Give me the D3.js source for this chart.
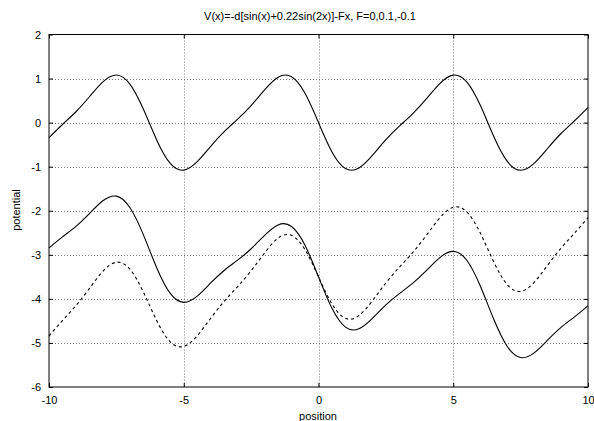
<!DOCTYPE html>
<html><head><meta charset="utf-8">
<script src="https://cdn.jsdelivr.net/npm/d3@7"></script>
<style>body{margin:0;background:#fff}svg{display:block}text{font-family:"Liberation Sans",Arial,sans-serif;font-size:11px;fill:#000}</style>
</head><body>
<script>
const title = "V(x)=-d[sin(x)+0.22sin(2x)]-Fx, F=0,0.1,-0.1";
const xTicks = [-10,-5,0,5,10];
const yTicks = [-6,-5,-4,-3,-2,-1,0,1,2];
const xs = [-10,-9.5,-9,-8.5,-8,-7.5,-7,-6.5,-6,-5.5,-5,-4.5,-4,-3.5,-3,-2.5,-2,-1.5,-1,-0.5,0,0.5,1,1.5,2,2.5,3,3.5,4,4.5,5,5.5,6,6.5,7,7.5,8,8.5,9,9.5,10];
const vF0 = [-0.343,-0.042,0.247,0.587,0.926,1.081,0.875,0.308,-0.398,-0.926,-1.079,-0.887,-0.539,-0.206,0.080,0.388,0.743,1.029,1.042,0.665,0,-0.665,-1.042,-1.029,-0.743,-0.388,-0.080,0.206,0.539,0.887,1.079,0.926,0.398,-0.308,-0.875,-1.081,-0.926,-0.587,-0.247,0.042,0.343];
const vFp = [-2.843,-2.592,-2.353,-2.063,-1.774,-1.669,-1.925,-2.542,-3.298,-3.876,-4.079,-3.937,-3.639,-3.356,-3.120,-2.862,-2.557,-2.321,-2.358,-2.785,-3.5,-4.215,-4.642,-4.679,-4.443,-4.138,-3.880,-3.644,-3.361,-3.063,-2.921,-3.124,-3.702,-4.458,-5.075,-5.331,-5.226,-4.937,-4.647,-4.408,-4.157];
const vFm = [-4.843,-4.492,-4.153,-3.763,-3.374,-3.169,-3.325,-3.842,-4.498,-4.976,-5.079,-4.837,-4.439,-4.056,-3.720,-3.362,-2.957,-2.621,-2.558,-2.885,-3.5,-4.115,-4.442,-4.379,-4.043,-3.638,-3.280,-2.944,-2.561,-2.163,-1.921,-2.024,-2.502,-3.158,-3.675,-3.831,-3.626,-3.237,-2.847,-2.508,-2.157];

const W=594,H=421, L=49, R=588, T=34.5, B=387;
const svg = d3.select("body").append("svg").attr("width",W).attr("height",H);
const x = d3.scaleLinear().domain([-10,10]).range([L,R]);
const y = d3.scaleLinear().domain([-6,2]).range([B,T]);
const fmt = d => String(d);

// grid
const g = svg.append("g");
g.selectAll(".gx").data(xTicks.slice(1,-1)).enter().append("line")
 .attr("x1",d=>Math.round(x(d))+0.5).attr("x2",d=>Math.round(x(d))+0.5).attr("y1",T).attr("y2",B)
 .attr("stroke","#777").attr("stroke-dasharray","1,2");
g.selectAll(".gy").data(yTicks.slice(1,-1)).enter().append("line")
 .attr("y1",d=>Math.round(y(d))+0.5).attr("y2",d=>Math.round(y(d))+0.5).attr("x1",L).attr("x2",R)
 .attr("stroke","#777").attr("stroke-dasharray","1,2");

// axes (inward ticks on all sides)
const ax = svg.append("g").attr("transform",`translate(0,${B})`)
 .call(d3.axisBottom(x).tickValues(xTicks).tickSize(-4).tickPadding(9).tickFormat(fmt));
const axT = svg.append("g").attr("transform",`translate(0,${T})`)
 .call(d3.axisTop(x).tickValues(xTicks).tickSize(-4).tickFormat(""));
const ay = svg.append("g").attr("transform",`translate(${L},0)`)
 .call(d3.axisLeft(y).tickValues(yTicks).tickSize(-4).tickPadding(8).tickFormat(fmt));
const ayR = svg.append("g").attr("transform",`translate(${R},0)`)
 .call(d3.axisRight(y).tickValues(yTicks).tickSize(-4).tickFormat(""));
[ax,axT,ay,ayR].forEach(a=>{a.select(".domain").remove();a.selectAll("line").attr("stroke","#000");a.selectAll("text").attr("font-size",11).attr("font-family","Liberation Sans, Arial, sans-serif");});
svg.append("rect").attr("x",L).attr("y",T).attr("width",R-L).attr("height",B-T)
 .attr("fill","none").attr("stroke","#000").attr("stroke-width",1);

// curves
const line = vals => d3.line().x((d,i)=>x(xs[i])).y(d=>y(d)).curve(d3.curveNatural)(vals);
svg.append("path").attr("d",line(vF0)).attr("fill","none").attr("stroke","#000").attr("stroke-width",1.1);
svg.append("path").attr("d",line(vFp)).attr("fill","none").attr("stroke","#000").attr("stroke-width",1.1);
svg.append("path").attr("d",line(vFm)).attr("fill","none").attr("stroke","#000").attr("stroke-width",1.1).attr("stroke-dasharray","3,3");

// labels
svg.append("text").attr("x",310).attr("y",20).attr("text-anchor","middle").text(title);
svg.append("text").attr("x",318).attr("y",420).attr("text-anchor","middle").text("position");
svg.append("text").attr("transform","translate(20,210) rotate(-90)").attr("text-anchor","middle").text("potential");
</script>
</body></html>
